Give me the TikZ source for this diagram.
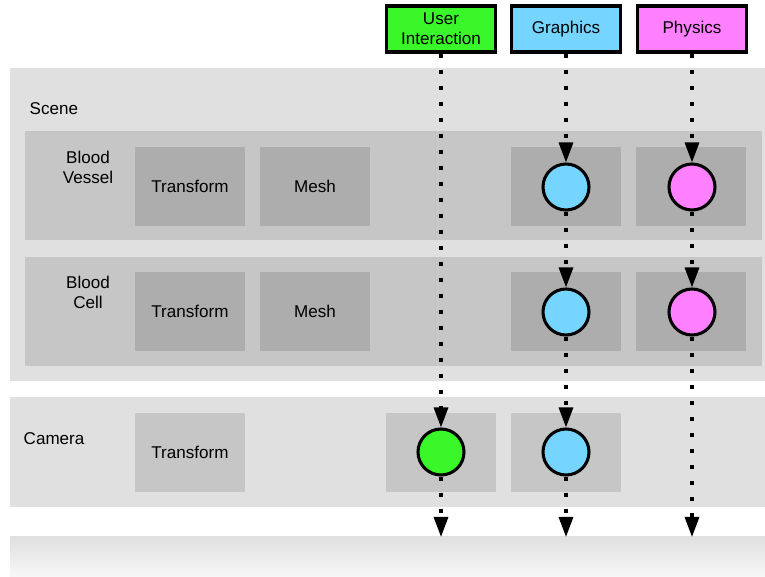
\documentclass[tikz,border=0pt]{standalone}
\usepackage{fontspec}
\setmainfont{Liberation Sans}
\usetikzlibrary{arrows.meta}
\usetikzlibrary{positioning}
\usetikzlibrary{shadows}
\definecolor{uigreen}{RGB}{58,247,42}
\definecolor{gfxblue}{RGB}{117,213,255}
\definecolor{physpink}{RGB}{255,128,255}
\definecolor{bglight}{RGB}{224,224,224}
\definecolor{bgmid}{RGB}{198,198,198}
\definecolor{bgdark}{RGB}{173,173,173}

\begin{document}
\begin{tikzpicture}[x=0.75pt, y=-0.75pt,
    every node/.style={font=\fontsize{12.8}{15}\selectfont, align=center},
    sysbox/.style={draw=black, line width=2.3pt, minimum width=81.5pt, minimum height=34.5pt, inner sep=1pt,
                   drop shadow={shadow xshift=0.8pt, shadow yshift=-1.2pt, opacity=0.25}},
    part/.style={minimum width=82.5pt, minimum height=59.25pt, inner sep=0pt},
    hook/.style={circle, draw=black, line width=2.3pt, minimum size=34.5pt, inner sep=0pt},
    flow/.style={line width=2.4pt, dash pattern=on 3.5pt off 8.5pt, -{Triangle[width=10.5pt,length=15pt]}}]
            \useasboundingbox (0,0) rectangle (765,577);

            % Scene background and its two entities
            \fill[bglight] (10,68) rectangle (765,381);
            \node[right] (scene) at (25,109) {Scene};
            \fill[bgmid] (25,131) rectangle (762,240);
            \fill[bgmid] (25,257) rectangle (762,366);
            \node (vessel) at (88,167) {Blood\\Vessel};
            \node (cell) at (88,292) {Blood\\Cell};

            % Camera
            \fill[bglight] (10,397) rectangle (765,507);
            \node[right] (camera) at (19,439) {Camera};

            % Fade at the bottom
            \shade[top color=bglight, bottom color=white!97!black] (10,537) rectangle (765,577);

            % Components
            \node[part, fill=bgdark] (vessel-tf) at (190,186.5) {Transform};
            \node[part, fill=bgdark] (vessel-mesh) at (315,186.5) {Mesh};
            \node[part, fill=bgdark] (vessel-gfxslot) at (566,186.5) {};
            \node[part, fill=bgdark] (vessel-physslot) at (691,186.5) {};
            \node[part, fill=bgdark] (cell-tf) at (190,311.5) {Transform};
            \node[part, fill=bgdark] (cell-mesh) at (315,311.5) {Mesh};
            \node[part, fill=bgdark] (cell-gfxslot) at (566,311.5) {};
            \node[part, fill=bgdark] (cell-physslot) at (691,311.5) {};
            \node[part, fill=bgmid] (cam-tf) at (190,452.5) {Transform};
            \node[part, fill=bgmid] (cam-uislot) at (441,452.5) {};
            \node[part, fill=bgmid] (cam-gfxslot) at (566,452.5) {};

            % Systems
            \node[sysbox, fill=uigreen] (ui) at (441,29) {User\\Interaction};
            \node[sysbox, fill=gfxblue] (gfx) at (566,29) {Graphics};
            \node[sysbox, fill=physpink] (phys) at (692,29) {Physics};

            % Hooks of the systems
            \node[hook, fill=gfxblue] (gfx-vessel) at (566,187) {};
            \node[hook, fill=physpink] (phys-vessel) at (692,187) {};
            \node[hook, fill=gfxblue] (gfx-cell) at (566,312) {};
            \node[hook, fill=physpink] (phys-cell) at (692,312) {};
            \node[hook, fill=uigreen] (ui-cam) at (441,452) {};
            \node[hook, fill=gfxblue] (gfx-cam) at (566,452) {};

            \coordinate (ui-end) at (441,537);
            \coordinate (gfx-end) at (566,537);
            \coordinate (phys-end) at (692,537);

            % Data flow
            \foreach \a/\b in {ui/ui-cam, ui-cam/ui-end,
                               gfx/gfx-vessel, gfx-vessel/gfx-cell, gfx-cell/gfx-cam, gfx-cam/gfx-end,
                               phys/phys-vessel, phys-vessel/phys-cell, phys-cell/phys-end} {
                \draw[flow] (\a) -- (\b);
            }
        \end{tikzpicture}
\end{document}
